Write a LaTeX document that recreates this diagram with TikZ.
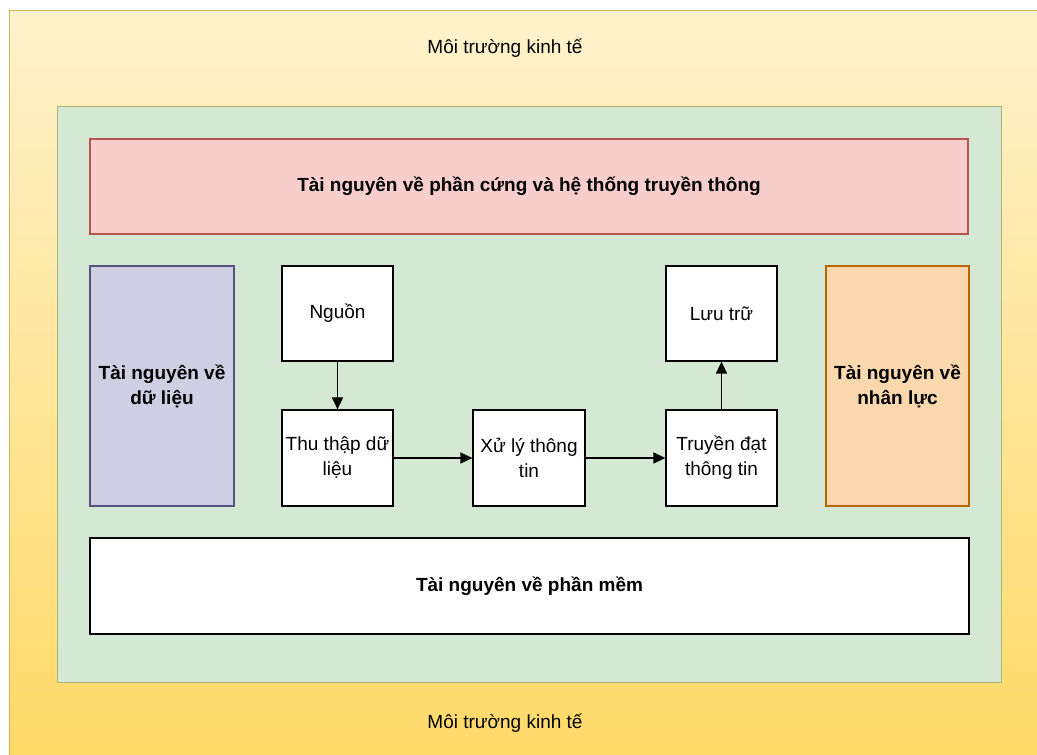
\documentclass[tikz,border=0pt]{standalone}
\usepackage{fontspec}
\setmainfont{Liberation Sans}
\usetikzlibrary{arrows.meta}
\definecolor{envtop}{HTML}{FFF2CC}
\definecolor{envbot}{HTML}{FFD966}
\definecolor{envline}{HTML}{D6B656}
\definecolor{grnfill}{HTML}{D5E8D4}
\definecolor{grnline}{HTML}{A9B57A}
\definecolor{redfill}{HTML}{F8CECC}
\definecolor{redline}{HTML}{B85450}
\definecolor{purfill}{HTML}{D0CEE2}
\definecolor{purline}{HTML}{56517E}
\definecolor{orgfill}{HTML}{FAD7AC}
\definecolor{orgline}{HTML}{B46504}
\tikzset{
  box/.style={draw=black, line width=1.2pt, fill=white, inner sep=0pt, align=center,
    font=\fontsize{19}{25}\selectfont},
  bigbox/.style={line width=1.2pt, inner sep=0pt, align=center,
    font=\bfseries\fontsize{19}{25}\selectfont},
  flow/.style={-{Triangle[length=12pt,width=11pt]}, line width=1.4pt},
  envlabel/.style={font=\fontsize{19}{25}\selectfont}
}
\begin{document}
\begin{tikzpicture}[x=1pt,y=-1pt]
  \useasboundingbox (0,0) rectangle (1037,755);
  % economic environment (runs past the page edge)
  \shade[top color=envtop, bottom color=envbot] (9,10) rectangle (1045,770);
  \draw[envline, line width=1pt] (1045,10) -- (9,10) -- (9,770);
  \node[envlabel] (envtop) at (505,48) {Môi trường kinh tế};
  \node[envlabel] (envbot) at (505,723) {Môi trường kinh tế};
  % information system
  \node[draw=grnline, fill=grnfill, line width=1pt, minimum width=944pt, minimum height=576pt, inner sep=0pt] (sys) at (529,394) {};
  % resources
  \node[bigbox, draw=redline, fill=redfill, minimum width=878pt, minimum height=95pt] (hw) at (529,186.5) {Tài nguyên về phần cứng và hệ thống truyền thông};
  \node[bigbox, draw=purline, fill=purfill, minimum width=144pt, minimum height=240pt] (data) at (162,386) {Tài nguyên về\\dữ liệu};
  \node[bigbox, draw=orgline, fill=orgfill, minimum width=143pt, minimum height=240pt] (hr) at (897.5,386) {Tài nguyên về\\nhân lực};
  \node[bigbox, draw=black, fill=white, minimum width=879pt, minimum height=96pt] (sw) at (529.5,586) {Tài nguyên về phần mềm};
  % processing steps
  \node[box, minimum width=111pt, minimum height=95pt] (src) at (337.5,313.5) {Nguồn};
  \node[box, minimum width=111pt, minimum height=96pt] (col) at (337.5,458) {Thu thập dữ\\liệu};
  \node[box, minimum width=112pt, minimum height=96pt] (proc) at (529,458) {Xử lý thông\\tin};
  \node[box, minimum width=111pt, minimum height=96pt] (comm) at (721.5,458) {Truyền đạt\\thông tin};
  \node[box, minimum width=111pt, minimum height=95pt] (store) at (721.5,313.5) {Lưu trữ};
  % flow
  \draw[flow] (src) -- (col);
  \draw[flow] (col) -- (proc);
  \draw[flow] (proc) -- (comm);
  \draw[flow] (comm) -- (store);
\end{tikzpicture}
\end{document}
